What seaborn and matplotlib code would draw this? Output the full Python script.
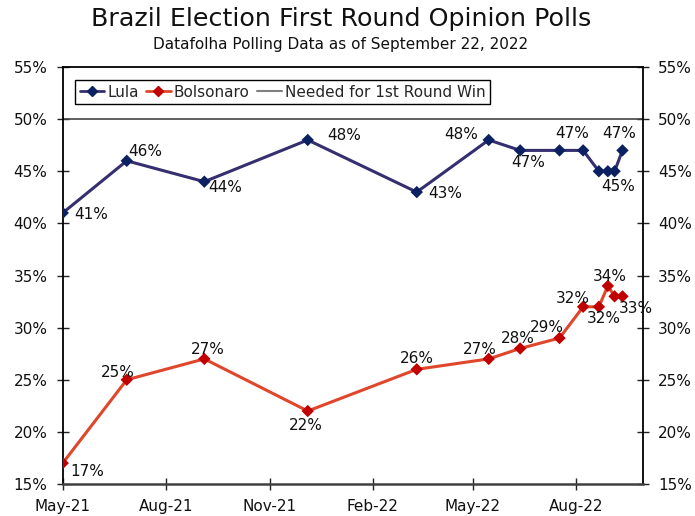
import matplotlib
matplotlib.use("Agg")
import matplotlib.pyplot as plt
import matplotlib.dates as mdates
from matplotlib.lines import Line2D
from matplotlib.ticker import FuncFormatter
import pandas as pd
import seaborn as sns

# ---------------- data ----------------
poll_dates = ["2021-05-12", "2021-07-08", "2021-09-15", "2021-12-16", "2022-03-23",
              "2022-05-26", "2022-06-23", "2022-07-28", "2022-08-18", "2022-09-01",
              "2022-09-09", "2022-09-15", "2022-09-22"]
lula = [41, 46, 44, 48, 43, 48, 47, 47, 47, 45, 45, 45, 47]
bolsonaro = [17, 25, 27, 22, 26, 27, 28, 29, 32, 32, 34, 33, 33]
needed_to_win = 50
series_names = ["Lula", "Bolsonaro", "Needed for 1st Round Win"]
x_tick_dates = ["2021-05-12", "2021-08-12", "2021-11-12", "2022-02-12", "2022-05-12", "2022-08-12"]
y_ticks = [15, 20, 25, 30, 35, 40, 45, 50, 55]
title = "Brazil Election First Round Opinion Polls"
subtitle = "Datafolha Polling Data as of September 22, 2022"

# ---------------- styles ----------------
line_colors = {"Lula": "#352F6F", "Bolsonaro": "#E0462B"}
marker_colors = {"Lula": "#0B2161", "Bolsonaro": "#C00000"}
# label offsets in pixels (dx, dy up); None = no label
lula_offsets = [(28, -2), (18, 9), (21, -6), (36, 4), (28, -1), (-28, 5), (8, -12.5),
                None, (-11, 16.5), None, None, (4, -15.5), (-3, 17)]
bols_offsets = [(25, -8.5), (-9, 7), (3, 9), (-2, -14), (0, 11), (-9, 9), (-2, 10),
                (-13, 11), (-10, 8.5), (4.5, -12), (1.5, 9), None, (13, -12.5)]

df = pd.DataFrame({
    "date": pd.to_datetime(poll_dates * 2),
    "value": lula + bolsonaro,
    "candidate": ["Lula"] * len(lula) + ["Bolsonaro"] * len(bolsonaro),
})

sns.set_theme(style="ticks")
plt.rcParams["font.family"] = ["DejaVu Sans"]

fig = plt.figure(figsize=(6.95, 5.16), dpi=100)
ax = fig.add_axes([62.7 / 695, 1 - 484 / 516, 580 / 695, 417 / 516])

ax.axhline(needed_to_win, color="#444444", lw=1.2, zorder=1)

sns.lineplot(data=df, x="date", y="value", hue="candidate", palette=line_colors,
             lw=2.2, legend=False, ax=ax, zorder=2)
sns.scatterplot(data=df, x="date", y="value", hue="candidate", palette=marker_colors,
                marker="D", s=40, linewidth=0, legend=False, ax=ax, zorder=3)

px = 0.72
for vals, offs in ((lula, lula_offsets), (bolsonaro, bols_offsets)):
    for d, v, o in zip(pd.to_datetime(poll_dates), vals, offs):
        if o is None:
            continue
        ax.annotate(f"{v}%", (d, v), xytext=(o[0] * px, o[1] * px), textcoords="offset points",
                    ha="center", va="center", fontsize=11, color="#111111", zorder=4)

ax.set_xlim(pd.Timestamp("2021-05-12"), pd.Timestamp("2022-10-10"))
ax.set_ylim(15, 55)
ax.set_yticks(y_ticks)
ax.yaxis.set_major_formatter(FuncFormatter(lambda v, p: f"{v:.0f}%"))
ax.set_xticks(pd.to_datetime(x_tick_dates))
ax.xaxis.set_major_formatter(mdates.DateFormatter("%b-%y"))
ax.set_xlabel("")
ax.set_ylabel("")

ax.tick_params(axis="both", direction="inout", length=8, width=1, labelsize=11,
               color="#222222", labelcolor="#111111", pad=7)
ax.tick_params(axis="y", right=True, labelright=True)

for s in ["left", "right", "top"]:
    ax.spines[s].set_color("black")
    ax.spines[s].set_linewidth(1.3)
ax.spines["bottom"].set_color("#404040")
ax.spines["bottom"].set_linewidth(1.8)

handles = [
    Line2D([0], [0], color=line_colors["Lula"], lw=2, marker="D", ms=5,
           mfc=marker_colors["Lula"], mec=marker_colors["Lula"]),
    Line2D([0], [0], color=line_colors["Bolsonaro"], lw=2, marker="D", ms=5,
           mfc=marker_colors["Bolsonaro"], mec=marker_colors["Bolsonaro"]),
    Line2D([0], [0], color="#808080", lw=1.5),
]
leg = ax.legend(handles, series_names, loc="upper left", bbox_to_anchor=(0.0212, 0.969),
                ncol=3, frameon=True, fancybox=False, edgecolor="black", framealpha=1,
                fontsize=11, handlelength=1.6, handletextpad=0.2, columnspacing=0.5,
                borderpad=0.3, borderaxespad=0)
leg.get_frame().set_linewidth(1.0)

fig.text(0.491, 1 - 19 / 516, title, fontsize=18.3, ha="center", va="center", color="#111111")
fig.text(0.49, 1 - 44 / 516, subtitle, fontsize=11, ha="center", va="center", color="#111111")

fig.savefig("out.png", dpi=100)
